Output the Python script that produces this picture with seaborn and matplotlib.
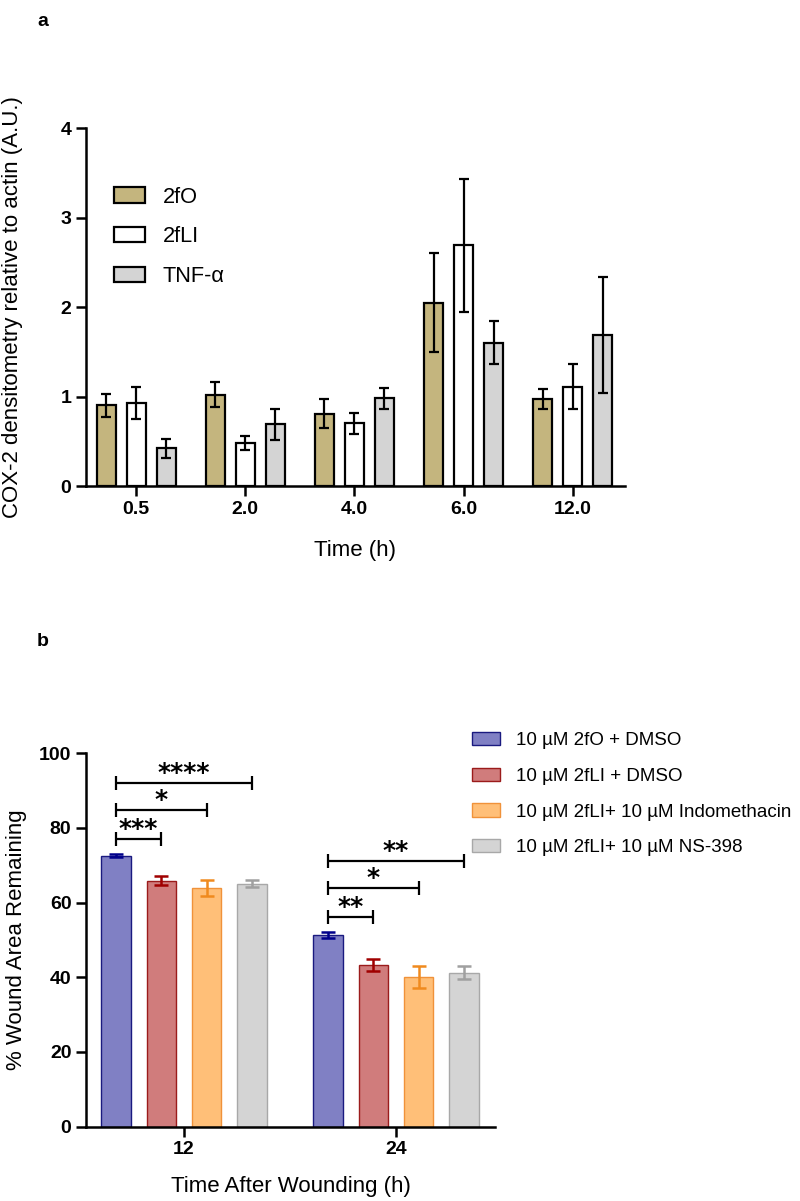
import numpy as np
import pandas as pd
import matplotlib
matplotlib.use("Agg")
import matplotlib.pyplot as plt
import seaborn as sns

# ---------------- Data: panel a ----------------
times_a = ["0.5", "2.0", "4.0", "6.0", "12.0"]
groups_a = ["2fO", "2fLI", "TNF-\u03b1"]
mean_2fO = [0.90, 1.02, 0.81, 2.05, 0.97]
mean_2fLI = [0.93, 0.48, 0.70, 2.69, 1.11]
mean_TNF = [0.42, 0.69, 0.98, 1.60, 1.69]
err_2fO = [0.13, 0.14, 0.16, 0.55, 0.11]
err_2fLI = [0.18, 0.08, 0.12, 0.74, 0.25]
err_TNF = [0.11, 0.17, 0.12, 0.24, 0.65]

# ---------------- Data: panel b ----------------
times_b = ["12", "24"]
groups_b = ["10 \u00b5M 2fO + DMSO", "10 \u00b5M 2fLI + DMSO",
            "10 \u00b5M 2fLI+ 10 \u00b5M Indomethacin", "10 \u00b5M 2fLI+ 10 \u00b5M NS-398"]
mean_b_2fO = [72.5, 51.2]
mean_b_2fLI = [65.8, 43.2]
mean_b_indo = [64.0, 40.1]
mean_b_ns = [65.1, 41.2]
err_b_2fO = [0.4, 0.8]
err_b_2fLI = [1.2, 1.6]
err_b_indo = [2.1, 2.9]
err_b_ns = [1.0, 1.7]

# significance: (time index, compared group index, bracket height, label)
sig_time = [0, 0, 0, 1, 1, 1]
sig_group = [1, 2, 3, 1, 2, 3]
sig_height = [77.0, 84.8, 92.0, 56.1, 64.0, 71.2]
sig_label = ["***", "*", "****", "**", "*", "**"]

# ---------------- Style ----------------
sns.set_style("ticks")
plt.rcParams["font.family"] = ["Liberation Sans", "DejaVu Sans"]
plt.rcParams["axes.linewidth"] = 1.8
plt.rcParams["axes.edgecolor"] = "black"
plt.rcParams["axes.labelcolor"] = "black"
plt.rcParams["text.color"] = "black"
plt.rcParams["xtick.color"] = "black"
plt.rcParams["ytick.color"] = "black"
plt.rcParams["xtick.major.width"] = 1.8
plt.rcParams["ytick.major.width"] = 1.8
plt.rcParams["xtick.major.size"] = 7
plt.rcParams["ytick.major.size"] = 7

fig = plt.figure(figsize=(8.0, 12.01), dpi=100)
ax1 = fig.add_axes([0.1075, 0.5953, 0.67375, 0.2981])
ax2 = fig.add_axes([0.1075, 0.0619, 0.51125, 0.3109])

# ---------------- Panel a ----------------
df_a = pd.DataFrame({
    "time": times_a * 3,
    "group": sum([[g] * len(times_a) for g in groups_a], []),
    "value": mean_2fO + mean_2fLI + mean_TNF,
})
errs_a = [err_2fO, err_2fLI, err_TNF]
pal_a = ["#C4B57E", "#FFFFFF", "#D4D4D4"]
sns.barplot(data=df_a, x="time", y="value", hue="group", order=times_a,
            hue_order=groups_a, palette=pal_a, errorbar=None, width=0.825,
            gap=0.36, saturation=1, edgecolor="black", linewidth=1.6,
            legend=False, ax=ax1)
for cont, errs in zip(ax1.containers, errs_a):
    xs = [b.get_x() + b.get_width() / 2 for b in cont]
    ys = [b.get_height() for b in cont]
    ax1.errorbar(xs, ys, yerr=errs, fmt="none", ecolor="black",
                 elinewidth=1.6, capsize=3.6, capthick=1.6, zorder=5)
ax1.set_xlim(-0.46, 4.48)
ax1.set_ylim(0, 4)
ax1.set_yticks([0, 1, 2, 3, 4])
sns.despine(ax=ax1)
ax1.tick_params(labelsize=14)
for t in ax1.get_xticklabels() + ax1.get_yticklabels():
    t.set_fontweight("bold")
ax1.set_xlabel("Time (h)", fontsize=16, va="center")
ax1.xaxis.set_label_coords(0.5, -0.179)
ax1.set_ylabel("COX-2 densitometry relative to actin (A.U.)", fontsize=16, va="center")
ax1.yaxis.set_label_coords(-0.136, 0.5)
leg1 = ax1.legend(handles=list(ax1.containers), labels=groups_a,
                  loc="upper left", bbox_to_anchor=(0.052, 0.836),
                  frameon=False, fontsize=15.7, borderaxespad=0, borderpad=0,
                  handlelength=1.4, handleheight=0.7, handletextpad=0.84,
                  labelspacing=0.85)

# ---------------- Panel b ----------------
df_b = pd.DataFrame({
    "time": times_b * 4,
    "group": sum([[g] * len(times_b) for g in groups_b], []),
    "value": mean_b_2fO + mean_b_2fLI + mean_b_indo + mean_b_ns,
})
errs_b = [err_b_2fO, err_b_2fLI, err_b_indo, err_b_ns]
face_b = ["#8080C4", "#D07C7C", "#FFBF78", "#D4D4D4"]
edge_b = ["#1A1A80", "#9B1B1B", "#F0923A", "#A8A8A8"]
ecol_b = ["#00008B", "#A00000", "#F08A1E", "#A0A0A0"]
sns.barplot(data=df_b, x="time", y="value", hue="group", order=times_b,
            hue_order=groups_b, palette=face_b, errorbar=None, width=0.855,
            gap=0.353, saturation=1, linewidth=1.0, legend=False, ax=ax2)
for cont, errs, ec, erc in zip(ax2.containers, errs_b, edge_b, ecol_b):
    for b in cont:
        b.set_edgecolor(ec)
        b.set_linewidth(1.0)
    xs = [b.get_x() + b.get_width() / 2 for b in cont]
    ys = [b.get_height() for b in cont]
    ax2.errorbar(xs, ys, yerr=errs, fmt="none", ecolor=erc,
                 elinewidth=1.8, capsize=5, capthick=1.8, zorder=5)

# significance brackets
for ti, gi, h, lab in zip(sig_time, sig_group, sig_height, sig_label):
    b0 = ax2.containers[0][ti]
    b1 = ax2.containers[gi][ti]
    x0 = b0.get_x() + b0.get_width() / 2
    x1 = b1.get_x() + b1.get_width() / 2
    ax2.plot([x0, x1], [h, h], color="black", lw=1.6, solid_capstyle="butt")
    for xx in (x0, x1):
        ax2.plot([xx, xx], [h - 1.9, h + 1.9], color="black", lw=1.6,
                 solid_capstyle="butt")
    ax2.annotate(lab, xy=((x0 + x1) / 2, h), xytext=(0, 2),
                 textcoords="offset points", ha="center", va="baseline",
                 fontsize=18, fontweight="bold", family="DejaVu Sans")

ax2.set_xlim(-0.462, 1.467)
ax2.set_ylim(0, 100)
ax2.set_yticks([0, 20, 40, 60, 80, 100])
sns.despine(ax=ax2)
ax2.tick_params(labelsize=14)
for t in ax2.get_xticklabels() + ax2.get_yticklabels():
    t.set_fontweight("bold")
ax2.set_xlabel("Time After Wounding (h)", fontsize=16, va="center")
ax2.xaxis.set_label_coords(0.5, -0.159)
ax2.set_ylabel("% Wound Area Remaining", fontsize=16, va="center")
ax2.yaxis.set_label_coords(-0.170, 0.5)
leg2 = ax2.legend(handles=list(ax2.containers), labels=groups_b,
                  loc="upper left", bbox_to_anchor=(0.5896, 0.3908),
                  bbox_transform=fig.transFigure, frameon=False, fontsize=13.5,
                  borderaxespad=0, borderpad=0, handlelength=1.5,
                  handleheight=0.7, handletextpad=0.86, labelspacing=1.0)

# panel letters
fig.text(43 / 800, 1 - 22 / 1201, "a", fontsize=14, fontweight="bold",
         ha="center", va="center")
fig.text(43 / 800, 1 - 641 / 1201, "b", fontsize=14, fontweight="bold",
         ha="center", va="center")

fig.savefig("out.png", dpi=100)
